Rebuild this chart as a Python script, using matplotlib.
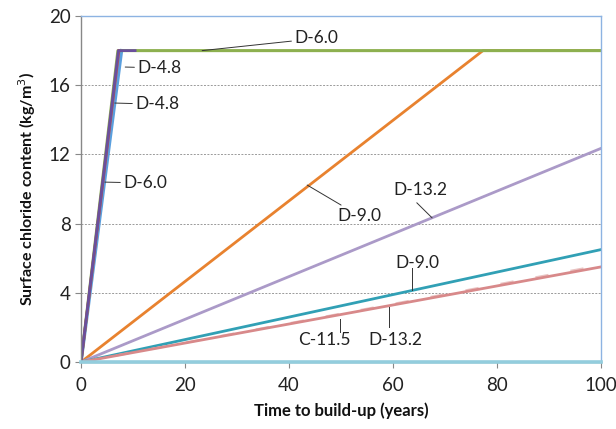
import matplotlib
matplotlib.use('Agg')
import matplotlib.pyplot as plt

plt.rcParams['font.family'] = ['Lato', 'DejaVu Sans']

# ── Build-up curves: (years, surface chloride kg/m3) ─────────────────────────
base_t,   base_c   = [0, 100], [0, 0]
d48a_t,   d48a_c   = [0, 7.2, 10.4], [0, 18, 18]     # purple
d48b_t,   d48b_c   = [0, 7.3], [0, 18]               # red
d60a_t,   d60a_c   = [0, 7.1, 100], [0, 18, 18]      # green
d60b_t,   d60b_c   = [0, 7.8], [0, 18]               # blue
d90a_t,   d90a_c   = [0, 77.3, 100], [0, 18, 18]     # orange
d132a_t,  d132a_c  = [0, 100], [0, 12.35]            # lilac
d90b_t,   d90b_c   = [0, 100], [0, 6.5]              # teal
c115_t,   c115_c   = [0, 100], [0, 5.6]              # pale pink (dashed)
d132b_t,  d132b_c  = [0, 100], [0, 5.5]              # pink

yticks = [0, 4, 8, 12, 16, 20]
xticks = [0, 20, 40, 60, 80, 100]

LABEL_FS = 12.5

fig = plt.figure(figsize=(6.16, 4.29), dpi=100)
ax = fig.add_axes([0.1315, 0.156, 0.8441, 0.8067])

for y in yticks[1:-1]:
    ax.axhline(y, color='#9a9a9a', lw=0.7, ls=(0, (2, 1.5)), zorder=0)

ax.plot(base_t, base_c, color='#93cddd', lw=2.6, zorder=4, clip_on=False)
ax.plot(d90a_t, d90a_c, color='#e8822f', lw=2)
ax.plot(d132a_t, d132a_c, color='#ab9ac8', lw=2)
ax.plot(d90b_t, d90b_c, color='#31a0b5', lw=2)
ax.plot(c115_t, c115_c, color='#e9c3c2', lw=1.6, ls=(0, (6, 10)))
ax.plot(d132b_t, d132b_c, color='#d8898a', lw=2)
ax.plot(d60b_t, d60b_c, color='#5a9fde', lw=2.4)
ax.plot(d60a_t, d60a_c, color='#8db04f', lw=2.2)
ax.plot(d48b_t, d48b_c, color='#c0504d', lw=2)
ax.plot(d48a_t, d48a_c, color='#6a4f9c', lw=2)

# ── Series labels with leader lines ──────────────────────────────────────────
labels = [
    ('D-6.0',  (23.3, 18.0), (41.0, 18.7), 'left'),
    ('D-4.8',  (8.5, 17.05), (10.8, 17.0), 'left'),
    ('D-4.8',  (6.5, 14.97), (10.4, 14.9), 'left'),
    ('D-6.0',  (4.6, 10.4),  (8.1, 10.35), 'left'),
    ('D-9.0',  (43.5, 10.23), (49.3, 8.45), 'left'),
]
for txt, xy, xytext, ha in labels:
    ax.annotate(txt, xy=xy, xytext=xytext, ha=ha, va='center', fontsize=LABEL_FS,
                color='#222222',
                arrowprops=dict(arrowstyle='-', color='#333333', lw=0.7,
                                shrinkA=0, shrinkB=0))

# labels whose leader lines attach to a side of the text
ax.text(60.0, 9.94, 'D-13.2', ha='left', va='center', fontsize=LABEL_FS, color='#222222')
ax.plot([64.6, 67.5], [9.2, 8.34], color='#333333', lw=0.7)

ax.text(64.6, 5.72, 'D-9.0', ha='center', va='center', fontsize=LABEL_FS, color='#222222')
ax.plot([63.65, 63.65], [5.45, 4.14], color='#333333', lw=0.7)

ax.text(46.9, 1.3, 'C-11.5', ha='center', va='center', fontsize=LABEL_FS, color='#222222')
ax.plot([49.8, 49.8], [2.5, 1.75], color='#333333', lw=0.7)

ax.text(60.4, 1.3, 'D-13.2', ha='center', va='center', fontsize=LABEL_FS, color='#222222')
ax.plot([59.2, 59.2], [3.2, 2.05], color='#333333', lw=0.7)

# ── Axes styling ──────────────────────────────────────────────────────────────
ax.set_xlim(0, 100)
ax.set_ylim(0, 20)
ax.set_xticks(xticks)
ax.set_yticks(yticks)
ax.tick_params(axis='both', labelsize=13.5, colors='#888888', labelcolor='#222222',
               length=4, width=0.8, direction='out')
ax.tick_params(axis='x', pad=7)

ax.spines['left'].set_color('#888888')
ax.spines['bottom'].set_color('#888888')
ax.spines['top'].set_color('#8db3e2')
ax.spines['right'].set_color('#8db3e2')
for s in ax.spines.values():
    s.set_linewidth(1)

ax.set_xlabel('Time to build-up (years)', fontsize=12, fontweight='bold',
              color='#111111', labelpad=6)
ax.set_ylabel('Surface chloride content (kg/m$^3$)', fontsize=11.5,
              fontweight='bold', color='#111111', labelpad=8)

fig.savefig('out.png', dpi=100)
